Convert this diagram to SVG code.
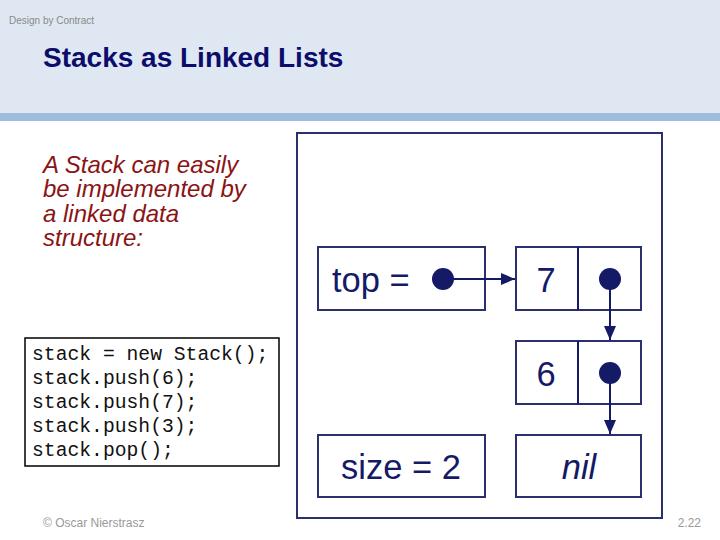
<svg xmlns="http://www.w3.org/2000/svg" width="720" height="540" viewBox="0 0 720 540">
<style>
.box{fill:#fff;stroke:#2a2f6e;stroke-width:2}
.lbl{font-family:"Liberation Sans",Arial,sans-serif;font-size:34.5px;fill:#141a66}
.dot{fill:#141a66}
.conn{stroke:#141a66;stroke-width:2;fill:none}
.red{font-family:"Liberation Sans",Arial,sans-serif;font-size:24px;font-style:italic;fill:#8a1414}
.code{font-family:"Liberation Mono","Courier New",monospace;font-size:19.7px;fill:#111}
.foot{font-family:"Liberation Sans",Arial,sans-serif;font-size:12px;fill:#999}
</style>
<defs>
<marker id="ah" markerWidth="14" markerHeight="12" refX="14" refY="6" orient="auto" markerUnits="userSpaceOnUse">
<path d="M0,0 L14,6 L0,12 Z" fill="#141a66"/>
</marker>
</defs>
<rect x="0" y="0" width="720" height="540" fill="#fff"/>
<rect x="0" y="0" width="720" height="113" fill="#dfe7f2"/>
<rect x="0" y="113" width="720" height="8" fill="#a0bcdc"/>
<text x="9" y="24" font-family="Liberation Sans,Arial,sans-serif" font-size="10" fill="#8a8a8a">Design by Contract</text>
<text x="43" y="67" font-family="Liberation Sans,Arial,sans-serif" font-size="28" font-weight="bold" fill="#0c0c6c">Stacks as Linked Lists</text>
<g id="intro">
<text class="red" x="43" y="173">A Stack can easily</text>
<text class="red" x="43" y="197">be implemented by</text>
<text class="red" x="43" y="222">a linked data</text>
<text class="red" x="43" y="246">structure:</text>
</g>
<g id="code">
<rect x="25" y="338" width="254" height="128" fill="#fff" stroke="#000" stroke-width="1.5"/>
<text class="code" x="32" y="360">stack = new Stack();</text>
<text class="code" x="32" y="384">stack.push(6);</text>
<text class="code" x="32" y="408">stack.push(7);</text>
<text class="code" x="32" y="432">stack.push(3);</text>
<text class="code" x="32" y="456">stack.pop();</text>
</g>
<g id="frame"><rect x="297" y="133" width="365" height="385" fill="#fff" stroke="#2a2f6e" stroke-width="2"/></g>
<g id="top">
<rect class="box" x="318" y="247" width="167" height="63"/>
<text class="lbl" x="332" y="292">top =</text>
<circle class="dot" cx="443" cy="279" r="11"/>
</g>
<g id="node7">
<rect class="box" x="516" y="247" width="125" height="63"/>
<line class="conn" x1="578" y1="247" x2="578" y2="310"/>
<text class="lbl" x="546" y="292" text-anchor="middle">7</text>
<circle class="dot" cx="610" cy="279" r="11"/>
</g>
<g id="node6">
<rect class="box" x="516" y="341" width="125" height="63"/>
<line class="conn" x1="578" y1="341" x2="578" y2="404"/>
<text class="lbl" x="546" y="386" text-anchor="middle">6</text>
<circle class="dot" cx="610" cy="373" r="11"/>
</g>
<g id="size">
<rect class="box" x="318" y="435" width="167" height="62"/>
<text class="lbl" x="401" y="479" text-anchor="middle">size = 2</text>
</g>
<g id="nil">
<rect class="box" x="516" y="435" width="125" height="62"/>
<text class="lbl" x="579" y="479" text-anchor="middle" font-style="italic">nil</text>
</g>
<g id="connectors">
<line class="conn" x1="443" y1="279" x2="515" y2="279" marker-end="url(#ah)"/>
<line class="conn" x1="610" y1="279" x2="610" y2="340" marker-end="url(#ah)"/>
<line class="conn" x1="610" y1="373" x2="610" y2="434" marker-end="url(#ah)"/>
</g>
<text class="foot" x="43" y="527">© Oscar Nierstrasz</text>
<text class="foot" x="701" y="527" text-anchor="end">2.22</text>
</svg>
